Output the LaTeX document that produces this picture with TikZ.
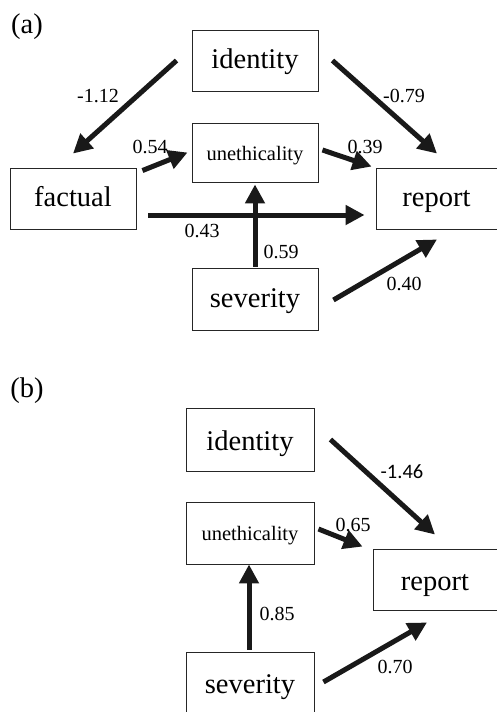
\documentclass[tikz,border=0pt]{standalone}
\usepackage{fontspec}
\setmainfont{Liberation Serif}
\newfontfamily\labsans{Carlito}
\usetikzlibrary{arrows.meta}
\tikzset{
  box/.style={draw=black!85, line width=0.9pt, inner sep=0pt, minimum width=126pt, minimum height=61pt, text height=19pt, text depth=3pt, font=\fontsize{28.5pt}{30pt}\selectfont},
  boxb/.style={box, text height=22pt, text depth=1pt},
  smallbox/.style={box, text height=17pt, text depth=2pt, font=\fontsize{20.5pt}{22pt}\selectfont},
  arr/.style={line width=5pt, black!90, -{Triangle[length=19pt,width=19pt]}},
  lab/.style={inner sep=0pt, font=\fontsize{20pt}{22pt}\selectfont},
  panel/.style={inner sep=0pt, font=\fontsize{28.5pt}{30pt}\selectfont},
}
\begin{document}
\begin{tikzpicture}[x=1pt,y=-1pt]
\useasboundingbox (0,0) rectangle (496,712);
% panel (a)
\node[panel] (pa) at (27,26.5) {(a)};
\node[box] (ida) at (255,60.5) {identity};
\node[smallbox, minimum height=59pt] (una) at (255,152.5) {unethicality};
\node[box] (faa) at (73,198.5) {factual};
\node[box, minimum width=121pt] (repa) at (436.5,198.5) {report};
\node[box, minimum height=62pt] (seva) at (255,299) {severity};

\draw[arr] ([shift={(-15,0)}]ida.west) -- ([shift={(0,-14)}]faa.north);
\draw[arr] ([shift={(14,0)}]ida.east) -- ([shift={(0.5,-14)}]repa.north);
\draw[arr] ([shift={(6,3)}]faa.north east) -- ([shift={(-4,0)}]una.west);
\draw[arr] ([shift={(4,-2.5)}]una.east) -- ([shift={(-4,-1)}]repa.north west);
\draw[arr] ([shift={(12,16.5)}]faa.east) -- ([shift={(-11,16.5)}]repa.west);
\draw[arr] ([shift={(0,-1)}]seva.north) -- ([shift={(0,2)}]una.south);
\draw[arr] ([shift={(15,1)}]seva.east) -- ([shift={(0.5,10)}]repa.south);

\node[lab] (l1) at (98,96) {-1.12};
\node[lab] (l2) at (404,96) {-0.79};
\node[lab] (l3) at (150,147) {0.54};
\node[lab] (l4) at (365,147) {0.39};
\node[lab] (l5) at (202,231) {0.43};
\node[lab] (l6) at (281,252) {0.59};
\node[lab] (l7) at (404,284) {0.40};

% panel (b)
\node[panel] (pb) at (27,391) {(b)};
\node[boxb, minimum width=128pt, minimum height=63pt] (idb) at (250,439.5) {identity};
\node[smallbox, minimum width=128pt, minimum height=62pt] (unb) at (250,533) {unethicality};
\node[boxb, minimum width=124pt] (repb) at (435,579.5) {report};
\node[boxb, minimum width=128pt, minimum height=62pt] (sevb) at (250,683) {severity};

\draw[arr] ([shift={(16,0)}]idb.east) -- ([shift={(0,-14)}]repb.north);
\draw[arr] ([shift={(4,-4)}]unb.east) -- ([shift={(-10,-2)}]repb.north west);
\draw[arr] ([shift={(-1,-2)}]sevb.north) -- ([shift={(-1,0)}]unb.south);
\draw[arr] ([shift={(9,-1)}]sevb.east) -- ([shift={(-8,12)}]repb.south);

\node[lab, font=\labsans\fontsize{20.5pt}{22pt}\selectfont] (m1) at (402,472) {-1.46};
\node[lab] (m2) at (353,525) {0.65};
\node[lab] (m3) at (277,614) {0.85};
\node[lab] (m4) at (395,667) {0.70};
\end{tikzpicture}
\end{document}
